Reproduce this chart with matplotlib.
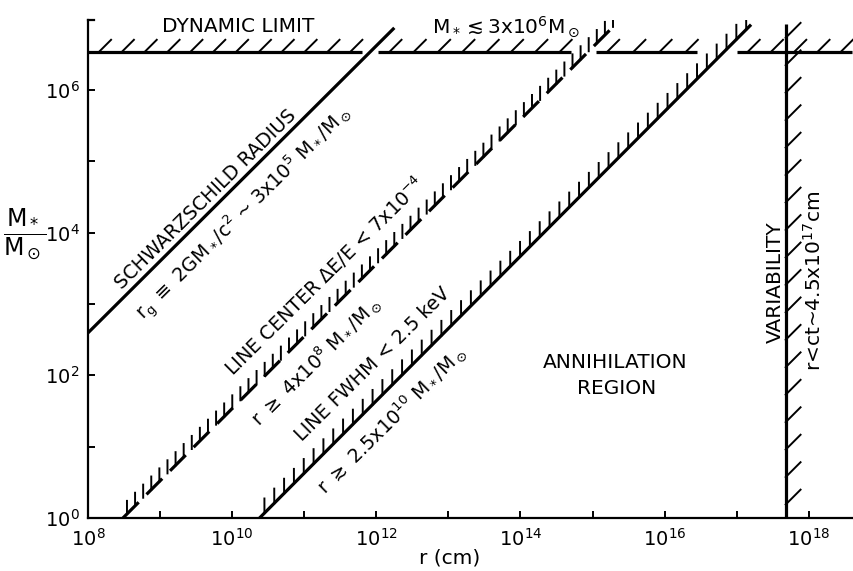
import numpy as np
import matplotlib
matplotlib.use("Agg")
import matplotlib.pyplot as plt
import matplotlib.patheffects as pe
from matplotlib.ticker import LogLocator, FuncFormatter, NullLocator
from matplotlib.lines import Line2D

plt.rcParams['font.family'] = ['DejaVu Sans']
plt.rcParams['lines.scale_dashes'] = False

# ---- data (log-log axes) ----
schwarz_r = [1e8, 10**12.25]
schwarz_m = [10**2.595, 10**6.87]

center_r = [10**8.485, 10**15.34]
center_m = [1.0, 10**6.94]

fwhm_r = [10**10.38, 10**17.20]
fwhm_m = [1.0, 10**6.915]

var_r = [10**17.68, 10**17.68]
var_m = [1.0, 10**6.92]

dyn_m = 10**6.535
dyn_segments_r = [(1e8, 10**11.795), (10**12.03, 10**14.70),
                  (10**15.05, 10**16.45), (10**17.0, 10**18.6)]

xlim = (1e8, 10**18.6)
ylim = (1.0, 10**6.98)

# ---- figure ----
W, H = 854, 571
fig = plt.figure(figsize=(W / 100, H / 100), dpi=100)
ax = fig.add_axes([88 / W, 1 - 518 / H, (852 - 88) / W, (518 - 20) / H])
ax.set_xscale('log')
ax.set_yscale('log')
ax.set_xlim(*xlim)
ax.set_ylim(*ylim)

for s in ['top', 'right']:
    ax.spines[s].set_visible(False)
for s in ['left', 'bottom']:
    ax.spines[s].set_linewidth(1.6)

ax.xaxis.set_major_locator(LogLocator(base=10, numticks=30))
ax.yaxis.set_major_locator(LogLocator(base=10, numticks=30))
ax.xaxis.set_minor_locator(NullLocator())
ax.yaxis.set_minor_locator(NullLocator())


def fmt(v, p):
    e = int(round(np.log10(v)))
    return r'$10^{%d}$' % e if e % 2 == 0 else ''


ax.xaxis.set_major_formatter(FuncFormatter(fmt))
ax.yaxis.set_major_formatter(FuncFormatter(fmt))
ax.tick_params(which='major', direction='in', length=5, width=1.4,
               labelsize=14)
ax.tick_params(axis='x', pad=7)
ax.tick_params(axis='y', pad=6)

lw = 2.3
# top-left small tick on spine
ax.add_artist(Line2D([0, 0.008], [1, 1], transform=ax.transAxes,
                     color='k', lw=1.6, clip_on=False))

# Schwarzschild radius (solid)
ax.plot(schwarz_r, schwarz_m, color='k', lw=lw, solid_capstyle='butt')

# Line center (dashed with ticks)
ax.plot(center_r, center_m, color='k', lw=lw, linestyle=(0, (16, 8)),
        dash_capstyle='butt')
ax.plot(center_r, center_m, color='k', lw=1.4,
        path_effects=[pe.TickedStroke(spacing=8.2, angle=45, length=1.15)])

# Line FWHM (solid with ticks)
ax.plot(fwhm_r, fwhm_m, color='k', lw=lw, solid_capstyle='butt')
ax.plot(fwhm_r, fwhm_m, color='k', lw=1.4,
        path_effects=[pe.TickedStroke(spacing=10, angle=45, length=1.05)])

# Variability (vertical, ticks to the right)
ax.plot(var_r, var_m, color='k', lw=lw, solid_capstyle='butt', clip_on=False)
ax.plot(var_r, var_m, color='k', lw=1.4, clip_on=False,
        path_effects=[pe.TickedStroke(spacing=19.4, angle=-45, length=0.78)])

# Dynamic limit (horizontal segments, ticks above)
for r0, r1 in dyn_segments_r:
    ax.plot([r0, r1], [dyn_m, dyn_m], color='k', lw=lw, clip_on=False,
            solid_capstyle='butt')
    ax.plot([r0, r1], [dyn_m, dyn_m], color='k', lw=1.4, clip_on=False,
            path_effects=[pe.TickedStroke(spacing=16, angle=45, length=0.76)])

# rotation angle of the diagonals on screen
p = ax.transData.transform([(1e10, 1e2), (1e12, 1e4)])
ang = np.degrees(np.arctan2(p[1, 1] - p[0, 1], p[1, 0] - p[0, 0]))

tkw = dict(ha='center', va='center', rotation_mode='anchor', fontsize=13.8)
ax.text(10**9.64, 10**4.47, 'SCHWARZSCHILD RADIUS', rotation=ang, **tkw)
ax.text(10**10.17, 10**4.26,
        r'r$_\mathregular{g}$ $\equiv$ 2GM$_*$/c$^2$ ~ 3x10$^5$ M$_*$/M$_\odot$',
        rotation=ang, **tkw)
ax.text(10**11.28, 10**3.40, r'LINE CENTER $\Delta$E/E < 7x10$^{-4}$',
        rotation=ang, **tkw)
ax.text(10**11.17, 10**2.20, r'r $\geq$ 4x10$^8$ M$_*$/M$_\odot$',
        rotation=ang, **tkw)
ax.text(10**11.95, 10**2.15, 'LINE FWHM < 2.5 keV', rotation=ang, **tkw)
ax.text(10**12.22, 10**1.38, r'r $\gtrsim$ 2.5x10$^{10}$ M$_*$/M$_\odot$',
        rotation=ang, **tkw)

fig.text(238 / W, 1 - 26 / H, 'DYNAMIC LIMIT', ha='center', va='center',
         fontsize=14.5)
fig.text(506 / W, 1 - 27 / H, r'M$_*$$\lesssim$3x10$^6$M$_\odot$',
         ha='center', va='center', fontsize=14.5)
fig.text(615 / W, 1 - 363 / H, 'ANNIHILATION', ha='center', va='center',
         fontsize=14.5)
fig.text(617 / W, 1 - 388 / H, 'REGION', ha='center', va='center',
         fontsize=14.5)
fig.text(775 / W, 1 - 282 / H, 'VARIABILITY', ha='center', va='center',
         rotation=90, fontsize=14.5)
fig.text(814 / W, 1 - 281 / H, r'r<ct~4.5x10$^{17}$cm', ha='center',
         va='center', rotation=90, fontsize=14.5)

fig.text(25 / W, 1 - 235 / H, r'$\dfrac{\mathregular{M}_*}{\mathregular{M}_\odot}$',
         ha='center', va='center', fontsize=17)
fig.text(450 / W, 1 - 558 / H, 'r (cm)', ha='center', va='center',
         fontsize=14.5)

fig.savefig('out.png', dpi=100)
